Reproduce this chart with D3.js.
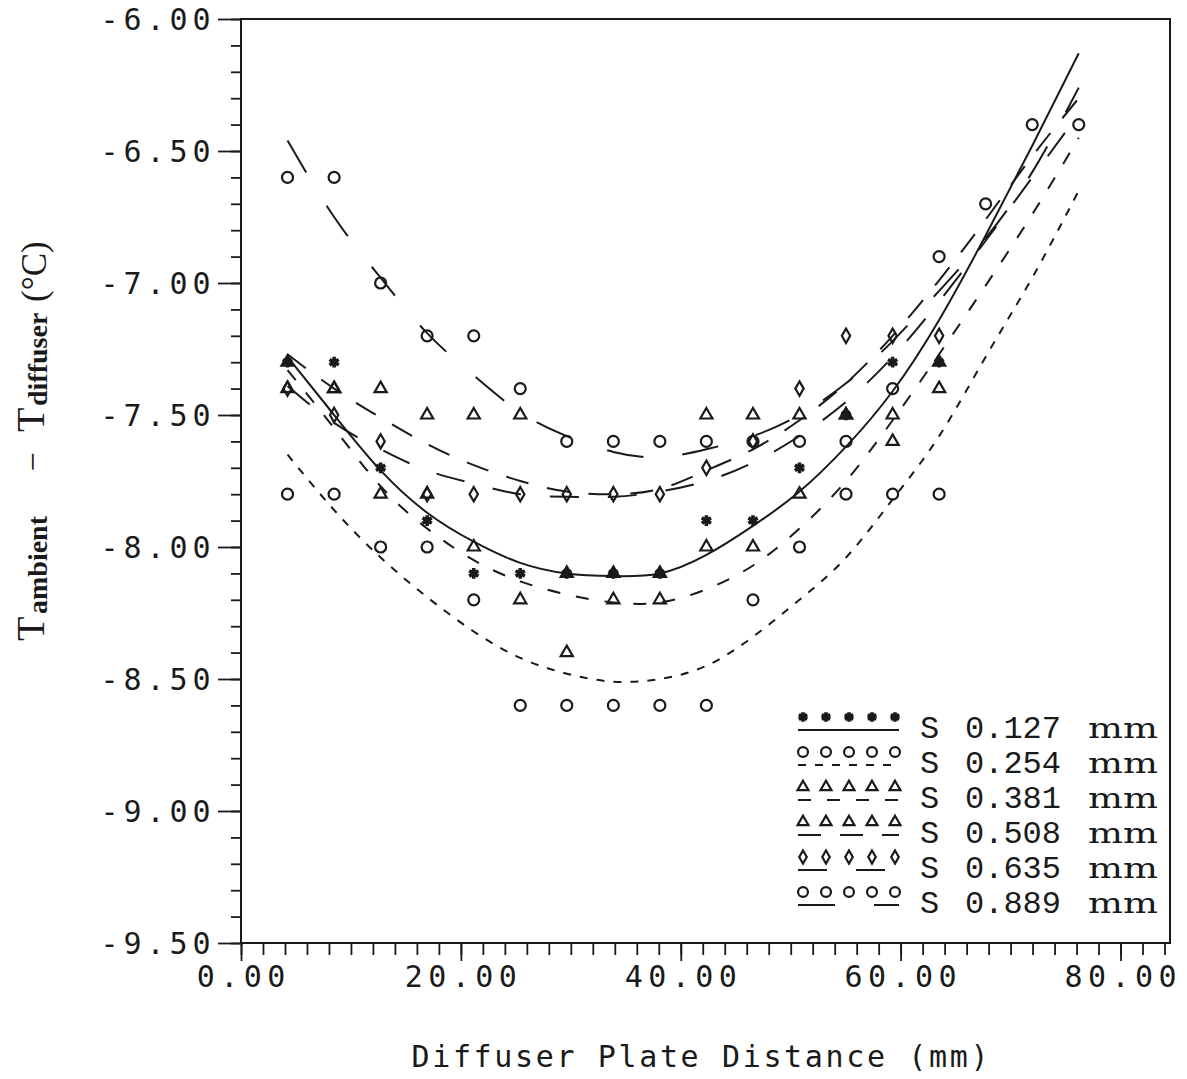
<!DOCTYPE html>
<html>
<head>
<meta charset="utf-8">
<script src="https://cdn.jsdelivr.net/npm/d3@7"></script>
<style>
  body { margin: 0; background: #fff; }
  .plotter { font-family: "DejaVu Sans Mono", monospace; font-variant-numeric: slashed-zero; font-feature-settings: "zero" 1; fill: #1a1a1a; }
</style>
</head>
<body>
<svg id="chart" width="1187" height="1079"></svg>
<script>
// Measurement stations along the diffuser plate (mm)
const distance = [4.23, 8.47, 12.70, 16.93, 21.17, 25.40, 29.63, 33.87, 38.10,
                  42.33, 46.57, 50.80, 55.03, 59.27, 63.50, 67.73, 71.97, 76.20];

// Gap widths S (mm), one series each
const gapLabels = ["0.127", "0.254", "0.381", "0.508", "0.635", "0.889"];

// Measured T_ambient - T_diffuser (°C) at each station
const dT_0127 = [-7.3, -7.3, -7.7, -7.9, -8.1, -8.1, -8.1, -8.1, -8.1, -7.9, -7.9, -7.7, -7.5, -7.3, -7.3];
const dT_0254 = [-7.8, -7.8, -8.0, -8.0, -8.2, -8.6, -8.6, -8.6, -8.6, -8.6, -8.2, -8.0, -7.8, -7.8, -7.8];
const dT_0381 = [-7.4, -7.4, -7.8, -7.8, -8.0, -8.2, -8.4, -8.2, -8.2, -8.0, -8.0, -7.8, -7.5, -7.6, -7.4];
const dT_0508 = [-7.3, -7.4, -7.4, -7.5, -7.5, -7.5, -8.1, -8.1, -8.1, -7.5, -7.5, -7.5, -7.5, -7.5, -7.3];
const dT_0635 = [-7.4, -7.5, -7.6, -7.8, -7.8, -7.8, -7.8, -7.8, -7.8, -7.7, -7.6, -7.4, -7.2, -7.2, -7.2];
const dT_0889 = [-6.6, -6.6, -7.0, -7.2, -7.2, -7.4, -7.6, -7.6, -7.6, -7.6, -7.6, -7.6, -7.6, -7.4, -6.9, -6.7, -6.4, -6.4];

// Smoothed fit curves, evaluated at every station
const fit_0127 = [-7.28, -7.50, -7.71, -7.87, -7.98, -8.06, -8.10, -8.11, -8.10, -8.03, -7.92, -7.79, -7.62, -7.41, -7.14, -6.82, -6.48, -6.13];
const fit_0254 = [-7.65, -7.86, -8.04, -8.19, -8.32, -8.42, -8.48, -8.51, -8.50, -8.45, -8.34, -8.20, -8.04, -7.82, -7.58, -7.28, -6.98, -6.65];
const fit_0381 = [-7.33, -7.55, -7.77, -7.93, -8.05, -8.13, -8.18, -8.21, -8.21, -8.16, -8.07, -7.93, -7.75, -7.52, -7.27, -7.01, -6.74, -6.45];
const fit_0508 = [-7.27, -7.40, -7.51, -7.61, -7.69, -7.75, -7.79, -7.80, -7.78, -7.71, -7.63, -7.52, -7.38, -7.20, -6.99, -6.76, -6.52, -6.30];
const fit_0635 = [-7.39, -7.53, -7.63, -7.71, -7.76, -7.80, -7.81, -7.81, -7.79, -7.75, -7.68, -7.58, -7.45, -7.28, -7.07, -6.84, -6.60, -6.36];
const fit_0889 = [-6.46, -6.75, -6.98, -7.19, -7.35, -7.49, -7.58, -7.64, -7.66, -7.63, -7.58, -7.50, -7.38, -7.22, -7.03, -6.83, -6.58, -6.26];

// Axis ticks
const xMajorTicks = [0, 20, 40, 60, 80];
const yMajorTicks = [-9.5, -9.0, -8.5, -8.0, -7.5, -7.0, -6.5, -6.0];
const xTitle = "Diffuser Plate Distance (mm)";

// ---- series styling ----
const series = [
  { label: gapLabels[0], values: dT_0127, fit: fit_0127, marker: "star",     dash: null },
  { label: gapLabels[1], values: dT_0254, fit: fit_0254, marker: "circle",   dash: "8,9" },
  { label: gapLabels[2], values: dT_0381, fit: fit_0381, marker: "triangle", dash: "13,16" },
  { label: gapLabels[3], values: dT_0508, fit: fit_0508, marker: "triangle", dash: "23,19" },
  { label: gapLabels[4], values: dT_0635, fit: fit_0635, marker: "diamond",  dash: "29,29" },
  { label: gapLabels[5], values: dT_0889, fit: fit_0889, marker: "circle",   dash: "37,39" }
];

const INK = "#1a1a1a";
const svg = d3.select("#chart");

const x = d3.scaleLinear().domain([0, 84.5]).range([241, 1170]);
const y = d3.scaleLinear().domain([-9.5, -6.0]).range([943, 19]);

// ---- frame ----
svg.append("rect")
  .attr("x", x(0)).attr("y", y(-6))
  .attr("width", x(84.5) - x(0)).attr("height", y(-9.5) - y(-6))
  .attr("fill", "none").attr("stroke", INK).attr("stroke-width", 2);

// ---- ticks ----
const yMinor = d3.range(-95, -59, 1).map(v => v / 10);
const xMinor = d3.range(0, 85, 2);

function styleAxis(g) {
  g.select(".domain").remove();
  g.selectAll(".tick line").attr("stroke", INK).attr("stroke-width", 1.8);
  g.selectAll(".tick text").remove();
}

svg.append("g").attr("transform", `translate(${x(0)},0)`)
  .call(d3.axisLeft(y).tickValues(yMinor).tickSize(10).tickSizeOuter(0)).call(styleAxis);
svg.append("g").attr("transform", `translate(${x(0)},0)`)
  .call(d3.axisLeft(y).tickValues(yMajorTicks).tickSize(23).tickSizeOuter(0)).call(styleAxis);
svg.append("g").attr("transform", `translate(0,${y(-9.5)})`)
  .call(d3.axisBottom(x).tickValues(xMinor).tickSize(12).tickSizeOuter(0)).call(styleAxis);
svg.append("g").attr("transform", `translate(0,${y(-9.5)})`)
  .call(d3.axisBottom(x).tickValues(xMajorTicks).tickSize(18).tickSizeOuter(0)).call(styleAxis);

// Plotter-style text: every character sits in its own fixed-width cell
function cellText(parent, str, firstCenter, baseline, cell, size) {
  const t = parent.append("text").attr("class", "plotter")
    .attr("font-size", size).attr("text-anchor", "middle").attr("y", baseline);
  [...str].forEach((ch, i) => {
    t.append("tspan").attr("x", firstCenter + i * cell).text(ch);
  });
  return t;
}

const fmt = d => d.toFixed(2);

const yLabels = svg.append("g");
yMajorTicks.forEach(v => {
  const s = fmt(v), cell = 23;
  cellText(yLabels, s, 213 - (s.length - 0.5) * cell, y(v) + 11, cell, 30);
});

const xLabels = svg.append("g");
xMajorTicks.forEach(v => {
  const s = fmt(v), cell = 23.5;
  cellText(xLabels, s, x(v) - (s.length - 1) / 2 * cell, 987, cell, 30);
});

cellText(svg, xTitle, 700 - (xTitle.length - 1) / 2 * 20.7, 1067, 20.7, 30);

// ---- y-axis title (rotated) ----
function rotText(str, yStart, xBase, size, weight) {
  svg.append("text")
    .attr("transform", `translate(${xBase},${yStart}) rotate(-90)`)
    .attr("font-family", "'Liberation Serif', 'DejaVu Serif', serif")
    .attr("font-size", size).attr("font-weight", weight || "normal")
    .attr("fill", INK).text(str);
}
rotText("T", 641, 44, 40);
rotText("ambient", 614, 47, 28, "bold");
svg.append("text")
  .attr("transform", `translate(44,462) rotate(-90)`)
  .attr("text-anchor", "middle")
  .attr("font-family", "'Liberation Serif', serif").attr("font-size", 34)
  .attr("fill", INK).text("\u2212");
rotText("T", 432, 44, 40);
rotText("diffuser", 406, 47, 28, "bold");
rotText("(°C)", 302, 46, 35);

// ---- fit curves ----
const line = d3.line()
  .x((d, i) => x(distance[i]))
  .y(d => y(d))
  .curve(d3.curveNatural);

svg.append("g").selectAll("path")
  .data(series)
  .join("path")
  .attr("d", s => line(s.fit))
  .attr("fill", "none")
  .attr("stroke", INK)
  .attr("stroke-width", 2)
  .attr("stroke-dasharray", s => s.dash);

// ---- markers ----
const markerPath = {
  circle:   k => d3.symbol(d3.symbolCircle, 95 * k * k)(),
  triangle: k => d3.symbol(d3.symbolTriangle, 64 * k * k)(),
  diamond:  k => d3.symbol(d3.symbolDiamond, 60 * k * k)(),
  star:     k => d3.symbol(d3.symbolAsterisk, 80 * k * k)()
};

function drawMarker(g, type, cx, cy, k) {
  g.append("path")
    .attr("d", markerPath[type](k))
    .attr("transform", `translate(${cx},${cy})`)
    .attr("fill", "none")
    .attr("stroke", INK)
    .attr("stroke-width", type === "star" ? 3.6 : 2.2);
}

const pts = svg.append("g");
series.forEach(s => {
  s.values.forEach((v, i) => drawMarker(pts, s.marker, x(distance[i]), y(v), 1));
});

// ---- legend ----
const legend = svg.append("g");
const legendMarkerX = [803, 826, 849, 872, 895];
const monoFont = "'Liberation Mono', 'DejaVu Sans Mono', monospace";
series.forEach((s, r) => {
  const my = 717 + r * 35;
  legendMarkerX.forEach(mx => drawMarker(legend, s.marker, mx, my, 0.9));
  legend.append("line")
    .attr("x1", 798).attr("x2", 899)
    .attr("y1", my + 13).attr("y2", my + 13)
    .attr("stroke", INK).attr("stroke-width", 2)
    .attr("stroke-dasharray", s.dash);
  const base = my + 21;
  legend.append("text").attr("x", 920).attr("y", base)
    .attr("font-family", monoFont).attr("font-size", 32).attr("fill", INK).text("S");
  legend.append("text").attr("x", 965).attr("y", base)
    .attr("font-family", monoFont).attr("font-size", 32).attr("fill", INK).text(s.label);
  legend.append("text").attr("x", 1088).attr("y", base)
    .attr("font-family", "'DejaVu Serif', serif").attr("font-size", 27).attr("fill", INK)
    .attr("textLength", 70).attr("lengthAdjust", "spacingAndGlyphs").text("mm");
});
</script>
</body>
</html>
